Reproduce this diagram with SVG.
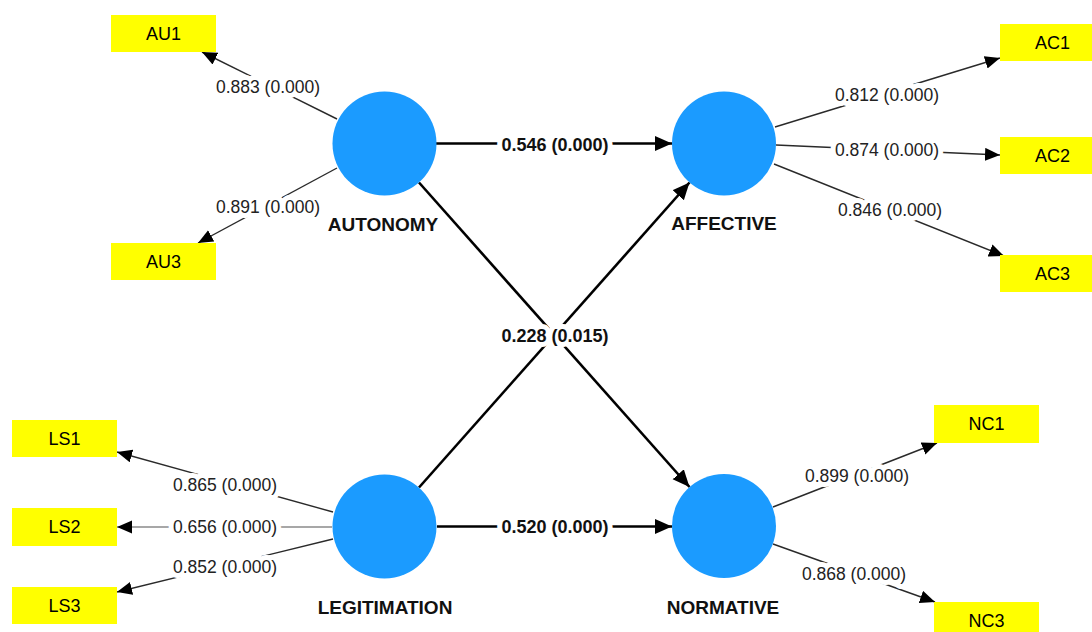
<svg xmlns="http://www.w3.org/2000/svg" width="1092" height="632" viewBox="0 0 1092 632">
<defs>
<style>
.ind{fill:#ffff00;}
.lv{fill:#1b9bff;}
.it{font-family:"Liberation Sans",Arial,sans-serif;font-size:18px;fill:#000;text-anchor:middle;dominant-baseline:central;}
.lt{font-family:"Liberation Sans",Arial,sans-serif;font-size:19px;font-weight:bold;fill:#111;text-anchor:middle;dominant-baseline:central;}
.ml{stroke:#2a2a2a;stroke-width:1.4;fill:none;marker-end:url(#ah);}
.mlg{stroke:#8a8a8a;stroke-width:1.6;fill:none;marker-end:url(#ah);}
.sl{stroke:#000;stroke-width:2.6;fill:none;marker-end:url(#ahb);}
.el{font-family:"Liberation Sans",Arial,sans-serif;font-size:17.5px;fill:#222;text-anchor:middle;dominant-baseline:central;stroke:#fff;stroke-width:10;paint-order:stroke;stroke-linejoin:round;}
.es{font-family:"Liberation Sans",Arial,sans-serif;font-size:18px;font-weight:bold;fill:#111;text-anchor:middle;dominant-baseline:central;stroke:#fff;stroke-width:10;paint-order:stroke;stroke-linejoin:round;}
</style>
<marker id="ah" markerUnits="userSpaceOnUse" markerWidth="16" markerHeight="14" refX="15" refY="6.5" orient="auto"><path d="M0,0 L15,6.5 L0,13 Z" fill="#000"/></marker>
<marker id="ahb" markerUnits="userSpaceOnUse" markerWidth="18" markerHeight="16" refX="17" refY="7.5" orient="auto"><path d="M0,0 L17,7.5 L0,15 Z" fill="#000"/></marker>
</defs>
<rect width="1092" height="632" fill="#fff"/>
<g id="connectors">
<line class="ml" x1="337" y1="119" x2="202" y2="52"/>
<line class="ml" x1="337" y1="168" x2="198" y2="243"/>
<line class="ml" x1="775" y1="127" x2="1000" y2="58"/>
<line class="ml" x1="776" y1="145" x2="1000" y2="155"/>
<line class="ml" x1="774" y1="164" x2="1004" y2="256"/>
<line class="ml" x1="333" y1="512" x2="117" y2="452"/>
<line class="mlg" x1="332" y1="527" x2="117" y2="527"/>
<line class="ml" x1="333" y1="539" x2="117" y2="592"/>
<line class="ml" x1="773" y1="507" x2="937" y2="443"/>
<line class="ml" x1="773" y1="544" x2="935" y2="602"/>
<line class="sl" x1="436" y1="143.5" x2="672" y2="143.5"/>
<line class="sl" x1="437" y1="526.5" x2="672" y2="526.5"/>
<line class="sl" x1="419" y1="182.5" x2="689.5" y2="487"/>
<line class="sl" x1="419" y1="487.5" x2="689.5" y2="182.5"/>
<text class="el" x="268" y="87">0.883 (0.000)</text>
<text class="el" x="268" y="207">0.891 (0.000)</text>
<text class="el" x="887" y="95">0.812 (0.000)</text>
<text class="el" x="887" y="150">0.874 (0.000)</text>
<text class="el" x="890" y="210">0.846 (0.000)</text>
<text class="el" x="225" y="485">0.865 (0.000)</text>
<text class="el" x="225" y="527">0.656 (0.000)</text>
<text class="el" x="225" y="567">0.852 (0.000)</text>
<text class="el" x="857" y="476">0.899 (0.000)</text>
<text class="el" x="854" y="574">0.868 (0.000)</text>
<text class="es" x="555" y="145">0.546 (0.000)</text>
<text class="es" x="555" y="527">0.520 (0.000)</text>
<text class="es" x="555" y="336">0.228 (0.015)</text>
</g>
<g id="AUTONOMY"><circle class="lv" cx="384.5" cy="143.5" r="52"/><text class="lt" x="383" y="224">AUTONOMY</text></g>
<g id="AFFECTIVE"><circle class="lv" cx="724" cy="143.5" r="52"/><text class="lt" x="724" y="223">AFFECTIVE</text></g>
<g id="LEGITIMATION"><circle class="lv" cx="384.5" cy="526.5" r="52"/><text class="lt" x="385" y="607">LEGITIMATION</text></g>
<g id="NORMATIVE"><circle class="lv" cx="724" cy="526" r="52"/><text class="lt" x="723" y="607">NORMATIVE</text></g>
<g id="AU1"><rect class="ind" x="111" y="15" width="105" height="37"/><text class="it" x="163.5" y="33.5">AU1</text></g>
<g id="AU3"><rect class="ind" x="111" y="243" width="105" height="37"/><text class="it" x="163.5" y="261.5">AU3</text></g>
<g id="AC1"><rect class="ind" x="1000" y="24" width="105" height="37"/><text class="it" x="1052.5" y="42.5">AC1</text></g>
<g id="AC2"><rect class="ind" x="1000" y="137" width="105" height="37"/><text class="it" x="1052.5" y="155.5">AC2</text></g>
<g id="AC3"><rect class="ind" x="1000" y="255" width="105" height="37"/><text class="it" x="1052.5" y="273.5">AC3</text></g>
<g id="LS1"><rect class="ind" x="12" y="420" width="105" height="37"/><text class="it" x="64.5" y="438.5">LS1</text></g>
<g id="LS2"><rect class="ind" x="12" y="508" width="105" height="38"/><text class="it" x="64.5" y="527">LS2</text></g>
<g id="LS3"><rect class="ind" x="12" y="587" width="105" height="37"/><text class="it" x="64.5" y="605.5">LS3</text></g>
<g id="NC1"><rect class="ind" x="934" y="405" width="105" height="38"/><text class="it" x="986.5" y="424">NC1</text></g>
<g id="NC3"><rect class="ind" x="934" y="602" width="105" height="38"/><text class="it" x="986.5" y="621">NC3</text></g>
</svg>
